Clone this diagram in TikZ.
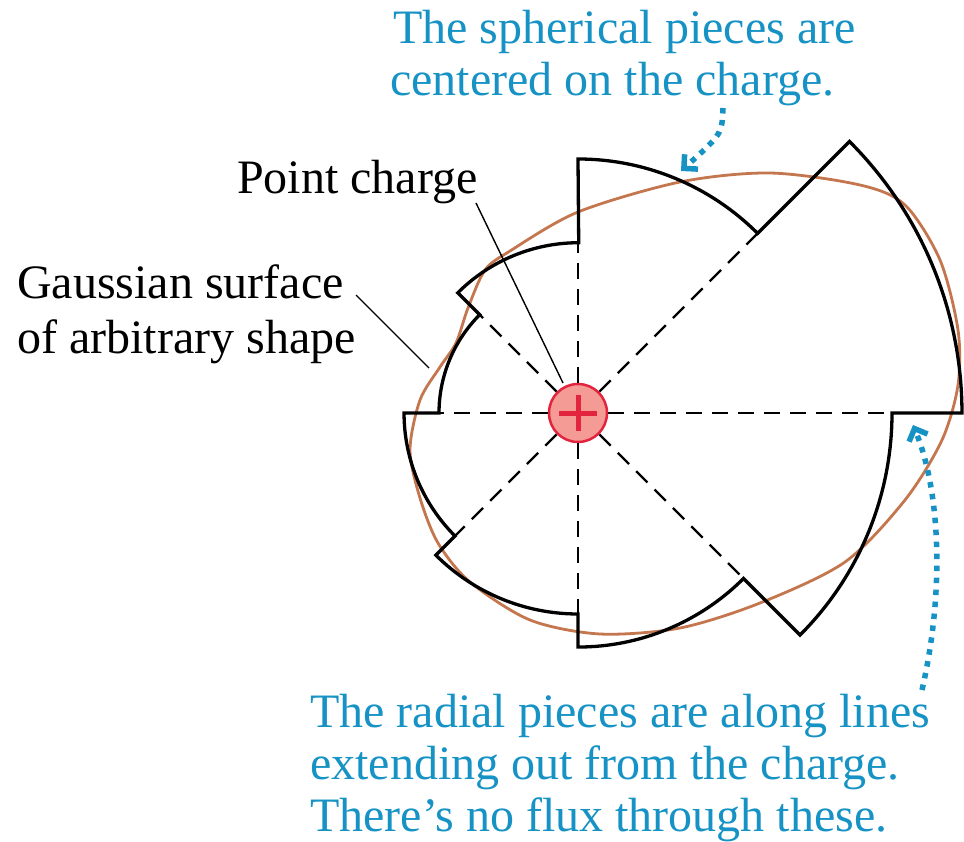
\documentclass[tikz,border=0pt]{standalone}
\usepackage{fontspec}
\setmainfont{Liberation Serif}
\usetikzlibrary{arrows.meta}
\definecolor{cblue}{RGB}{22,146,196}
\definecolor{corange}{RGB}{196,118,78}
\definecolor{cred}{RGB}{226,36,62}
\definecolor{cpink}{RGB}{243,155,148}
\begin{document}
\begin{tikzpicture}[x=1pt,y=-1pt,
  lbl/.style={font=\fontsize{48}{53}\selectfont, inner sep=0pt, anchor=base west},
  bluelbl/.style={lbl, text=cblue},
  surf/.style={line width=3.3pt, line join=miter},
  gauss/.style={draw=corange, line width=2.8pt},
  radial/.style={line width=2.4pt, dash pattern=on 16pt off 10pt},
  leader/.style={line width=1.4pt},
  dotarrow/.style={draw=cblue, line width=5.5pt, dash pattern=on 5.5pt off 6.5pt,
     -{Straight Barb[length=10pt,width=20pt,sharp]}},
  chargenode/.style={circle, minimum size=58pt, inner sep=0pt, fill=cpink, draw=cred, line width=2.5pt,
     path picture={\draw[cred,line width=5pt] (path picture bounding box.center) +(-19pt,0pt) -- +(19pt,0pt)
       (path picture bounding box.center) +(0pt,-18pt) -- +(0pt,18pt);}}
]
\useasboundingbox (0,0) rectangle (964,842);

% arbitrary Gaussian surface
\draw[gauss] plot[smooth cycle] coordinates {
 (578,212) (680,182) (770,173) (860,185) (905,205) (940,260) (958,330) (958,385)
 (942,440) (905,500) (845,562) (760,603) (680,628) (600,634) (530,620) (470,582)
 (438,543) (420,498) (410,450) (420,400) (440,367) (456,343) (468,308) (485,270) (510,251)};

% surface of spherical and radial pieces
\coordinate (C) at (578,413);
\draw[surf] (578,159)
  arc[start angle=-90, end angle=-45, radius=254] -- (849.5,141.5)
  arc[start angle=-45, end angle=0, radius=384] -- (892,413)
  arc[start angle=0, end angle=45, radius=314] -- (743.5,578.5)
  arc[start angle=45, end angle=90, radius=234] -- (578,614)
  arc[start angle=90, end angle=135, radius=201] -- (455,536)
  arc[start angle=135, end angle=180, radius=174] -- (439,413)
  arc[start angle=180, end angle=225, radius=139] -- (457.8,292.8)
  arc[start angle=225, end angle=270, radius=171] -- cycle;

% inner corners
\coordinate (d0) at (892,413);
\coordinate (d1) at (757.6,233.4);
\coordinate (d2) at (578,242);
\coordinate (d3) at (479.7,314.7);
\coordinate (d4) at (439,413);
\coordinate (d5) at (455,536);
\coordinate (d6) at (578,614);
\coordinate (d7) at (743.5,578.5);

% point charge
\node[chargenode] (q) at (C) {};
\foreach \d in {d0,d1,d2,d3,d4,d5,d6,d7} \draw[radial] (q) -- (\d);

% labels
\node[bluelbl] (s1) at (393,44) {The spherical pieces are};
\node[bluelbl] (s2) at (390,96) {centered on the charge.};
\node[lbl] (pc) at (237,194) {Point charge};
\node[lbl] (g1) at (17,299) {Gaussian surface};
\node[lbl] (g2) at (17,353) {of arbitrary shape};
\node[bluelbl] (r1) at (310,727) {The radial pieces are along lines};
\node[bluelbl] (r2) at (310,779) {extending out from the charge.};
\node[bluelbl] (r3) at (310,831) {There’s no flux through these.};

% leaders
\coordinate (pcs) at (476,203);
\coordinate (pce) at (563,383);
\draw[leader] (pcs) -- (pce);
\coordinate (gss) at (356,295);
\coordinate (gse) at (429,368);
\draw[leader] (gss) -- (gse);

% dotted arrows
\coordinate (a1s) at (723,108);
\coordinate (a1e) at (681,171);
\draw[dotarrow] (a1s) .. controls (722,134) .. (a1e);
\coordinate (a2s) at (922,690);
\coordinate (a2e) at (913,425);
\draw[dotarrow] (a2s) .. controls (945,590) and (940,490) .. (a2e);
\end{tikzpicture}
\end{document}
